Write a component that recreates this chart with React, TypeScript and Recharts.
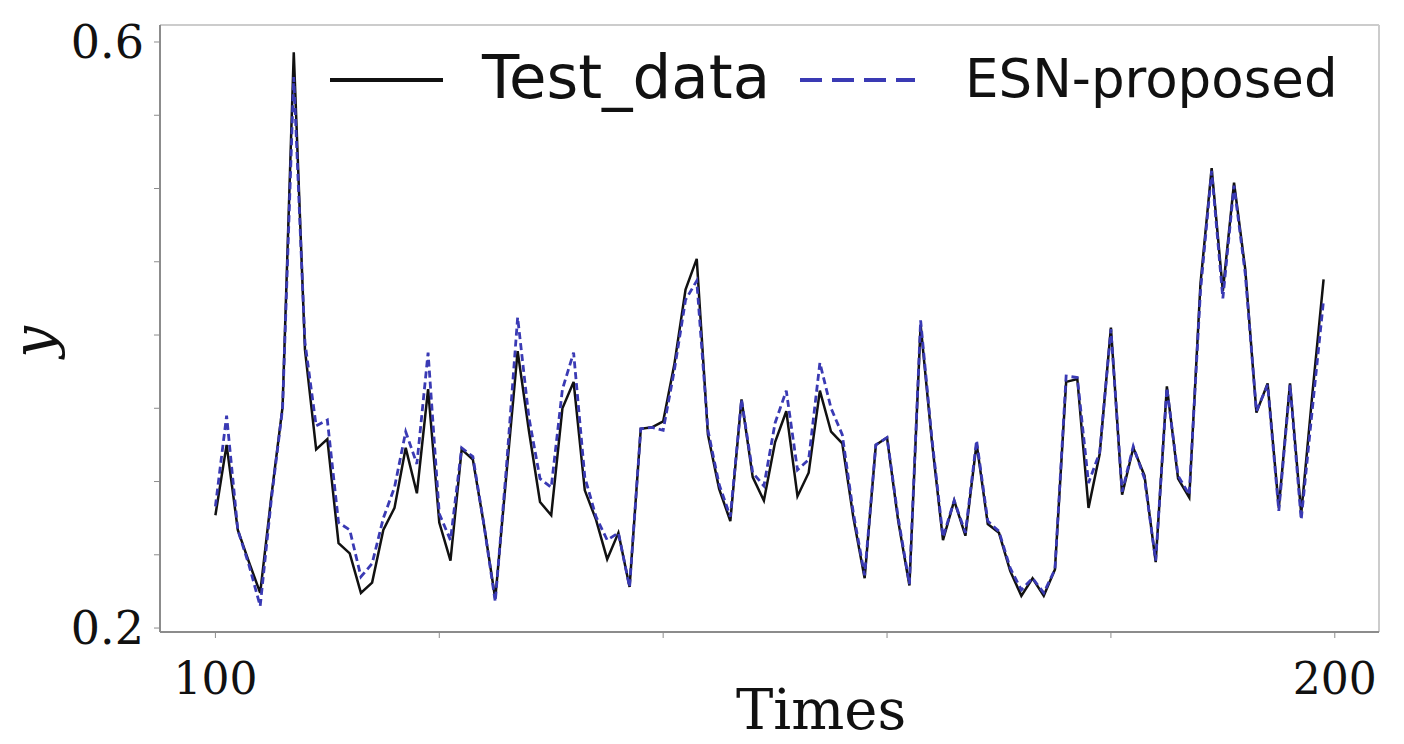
import React from 'react';
import { LineChart, Line, XAxis, YAxis, Legend, ReferenceLine } from 'recharts';

// time index starts at 100, one step per sample
const startTime = 100;

const testData = [
  0.277, 0.325, 0.267, 0.245, 0.224, 0.29, 0.351, 0.593, 0.39, 0.322,
  0.329, 0.258, 0.251, 0.224, 0.231, 0.267, 0.282, 0.323, 0.292, 0.363,
  0.272, 0.246, 0.322, 0.315, 0.27, 0.22, 0.305, 0.389, 0.335, 0.286,
  0.277, 0.35, 0.368, 0.294, 0.274, 0.247, 0.265, 0.228, 0.336, 0.337,
  0.341, 0.38, 0.431, 0.452, 0.332, 0.295, 0.273, 0.356, 0.303, 0.287,
  0.327, 0.348, 0.29, 0.306, 0.362, 0.334, 0.326, 0.275, 0.234, 0.325,
  0.33, 0.273, 0.229, 0.407, 0.328, 0.26, 0.287, 0.263, 0.326, 0.271,
  0.265, 0.239, 0.222, 0.234, 0.222, 0.24, 0.368, 0.37, 0.282, 0.319,
  0.405, 0.291, 0.323, 0.304, 0.245, 0.365, 0.302, 0.289, 0.435, 0.514,
  0.43, 0.504, 0.445, 0.347, 0.367, 0.282, 0.367, 0.278, 0.36, 0.438,
];

const esnData = [
  0.283, 0.345, 0.267, 0.243, 0.215, 0.288, 0.35, 0.576, 0.395, 0.338,
  0.342, 0.272, 0.267, 0.235, 0.244, 0.275, 0.296, 0.334, 0.312, 0.388,
  0.278, 0.26, 0.323, 0.317, 0.27, 0.218, 0.31, 0.412, 0.344, 0.302,
  0.296, 0.363, 0.388, 0.303, 0.276, 0.26, 0.265, 0.228, 0.336, 0.337,
  0.335, 0.376, 0.424, 0.437, 0.335, 0.298, 0.276, 0.356, 0.306, 0.297,
  0.34, 0.362, 0.308, 0.315, 0.381, 0.35, 0.332, 0.278, 0.236, 0.325,
  0.33, 0.275, 0.23, 0.41, 0.33, 0.262, 0.287, 0.265, 0.328, 0.273,
  0.266, 0.241, 0.226, 0.234, 0.224, 0.24, 0.372, 0.371, 0.299, 0.32,
  0.404, 0.293, 0.324, 0.302, 0.246, 0.364, 0.304, 0.291, 0.43, 0.512,
  0.425, 0.502, 0.442, 0.348, 0.366, 0.28, 0.366, 0.274, 0.35, 0.424,
];

const xTicks = [100, 120, 140, 160, 180, 200];
const xTickLabels = [100, 200];
const yTicks = [0.2, 0.25, 0.3, 0.35, 0.4, 0.45, 0.5, 0.55, 0.6];
const yTickLabels = [0.2, 0.6];

const xDomain = [95.05, 203.95];
const yDomain = [0.1973, 0.6116];

const rows = testData.map((v, i) => ({
  t: startTime + i,
  test: v,
  esn: esnData[i],
}));

const axisGray = '#8c8c8c';
const frameGray = '#cccccc';
const blue = '#3a3ab4';
const serif = 'DejaVu Serif';
const sans = 'DejaVu Sans';

function LegendBox() {
  return (
    <svg width={1404} height={130}>
      <line x1={330} y1={80} x2={443} y2={80} stroke="#111" strokeWidth={4} />
      <text x={482} y={98} fontSize={61} fontFamily={sans} fill="#111">
        Test_data
      </text>
      <line x1={800} y1={80} x2={915} y2={80} stroke={blue} strokeWidth={4} strokeDasharray="22 10" />
      <text x={965} y={97} fontSize={53} fontFamily={sans} fill="#111">
        ESN-proposed
      </text>
    </svg>
  );
}

export default function App() {
  return (
    <div style={{ position: 'absolute', left: 0, top: 0, width: 1404, height: 744, background: '#fff' }}>
      <LineChart width={1404} height={744} data={rows} margin={{ top: 25, right: 25, bottom: 0, left: 0 }}>
        <XAxis
          dataKey="t"
          type="number"
          domain={xDomain}
          allowDataOverflow
          ticks={xTicks}
          interval={0}
          tickFormatter={(v: number) => (xTickLabels.includes(v) ? String(v) : '')}
          height={112}
          tickSize={6}
          tickMargin={25}
          axisLine={{ stroke: axisGray, strokeWidth: 2 }}
          tickLine={{ stroke: axisGray }}
          tick={{ fontSize: 44, fontFamily: serif, fill: '#111' }}
          label={{
            content: () => (
              <text x={821} y={729} textAnchor="middle" fontSize={56} fontFamily={serif} fill="#111">
                Times
              </text>
            ),
          }}
        />
        <YAxis
          type="number"
          domain={yDomain}
          allowDataOverflow
          ticks={yTicks}
          interval={0}
          tickFormatter={(v: number) => (yTickLabels.includes(v) ? v.toFixed(1) : '')}
          width={160}
          tickSize={6}
          tickMargin={10}
          axisLine={{ stroke: axisGray, strokeWidth: 2 }}
          tickLine={{ stroke: axisGray }}
          tick={{ fontSize: 46, fontFamily: serif, fill: '#111' }}
          label={{
            content: () => (
              <text
                x={53}
                y={342}
                transform="rotate(-90 53 342)"
                textAnchor="middle"
                fontSize={56}
                fontStyle="italic"
                fontFamily={serif}
                fill="#111"
              >
                y
              </text>
            ),
          }}
        />
        <ReferenceLine y={yDomain[1]} stroke={frameGray} strokeWidth={2} />
        <ReferenceLine x={xDomain[1]} stroke={frameGray} strokeWidth={2} />
        <Legend
          layout="horizontal"
          verticalAlign="middle"
          align="center"
          content={() => <LegendBox />}
          wrapperStyle={{ left: 0, top: 0, width: 1404, height: 130 }}
        />
        <Line
          type="linear"
          dataKey="test"
          name="Test_data"
          stroke="#111"
          strokeWidth={2.5}
          dot={false}
          isAnimationActive={false}
        />
        <Line
          type="linear"
          dataKey="esn"
          name="ESN-proposed"
          stroke={blue}
          strokeWidth={2.8}
          strokeDasharray="7 4"
          dot={false}
          isAnimationActive={false}
        />
      </LineChart>
    </div>
  );
}
